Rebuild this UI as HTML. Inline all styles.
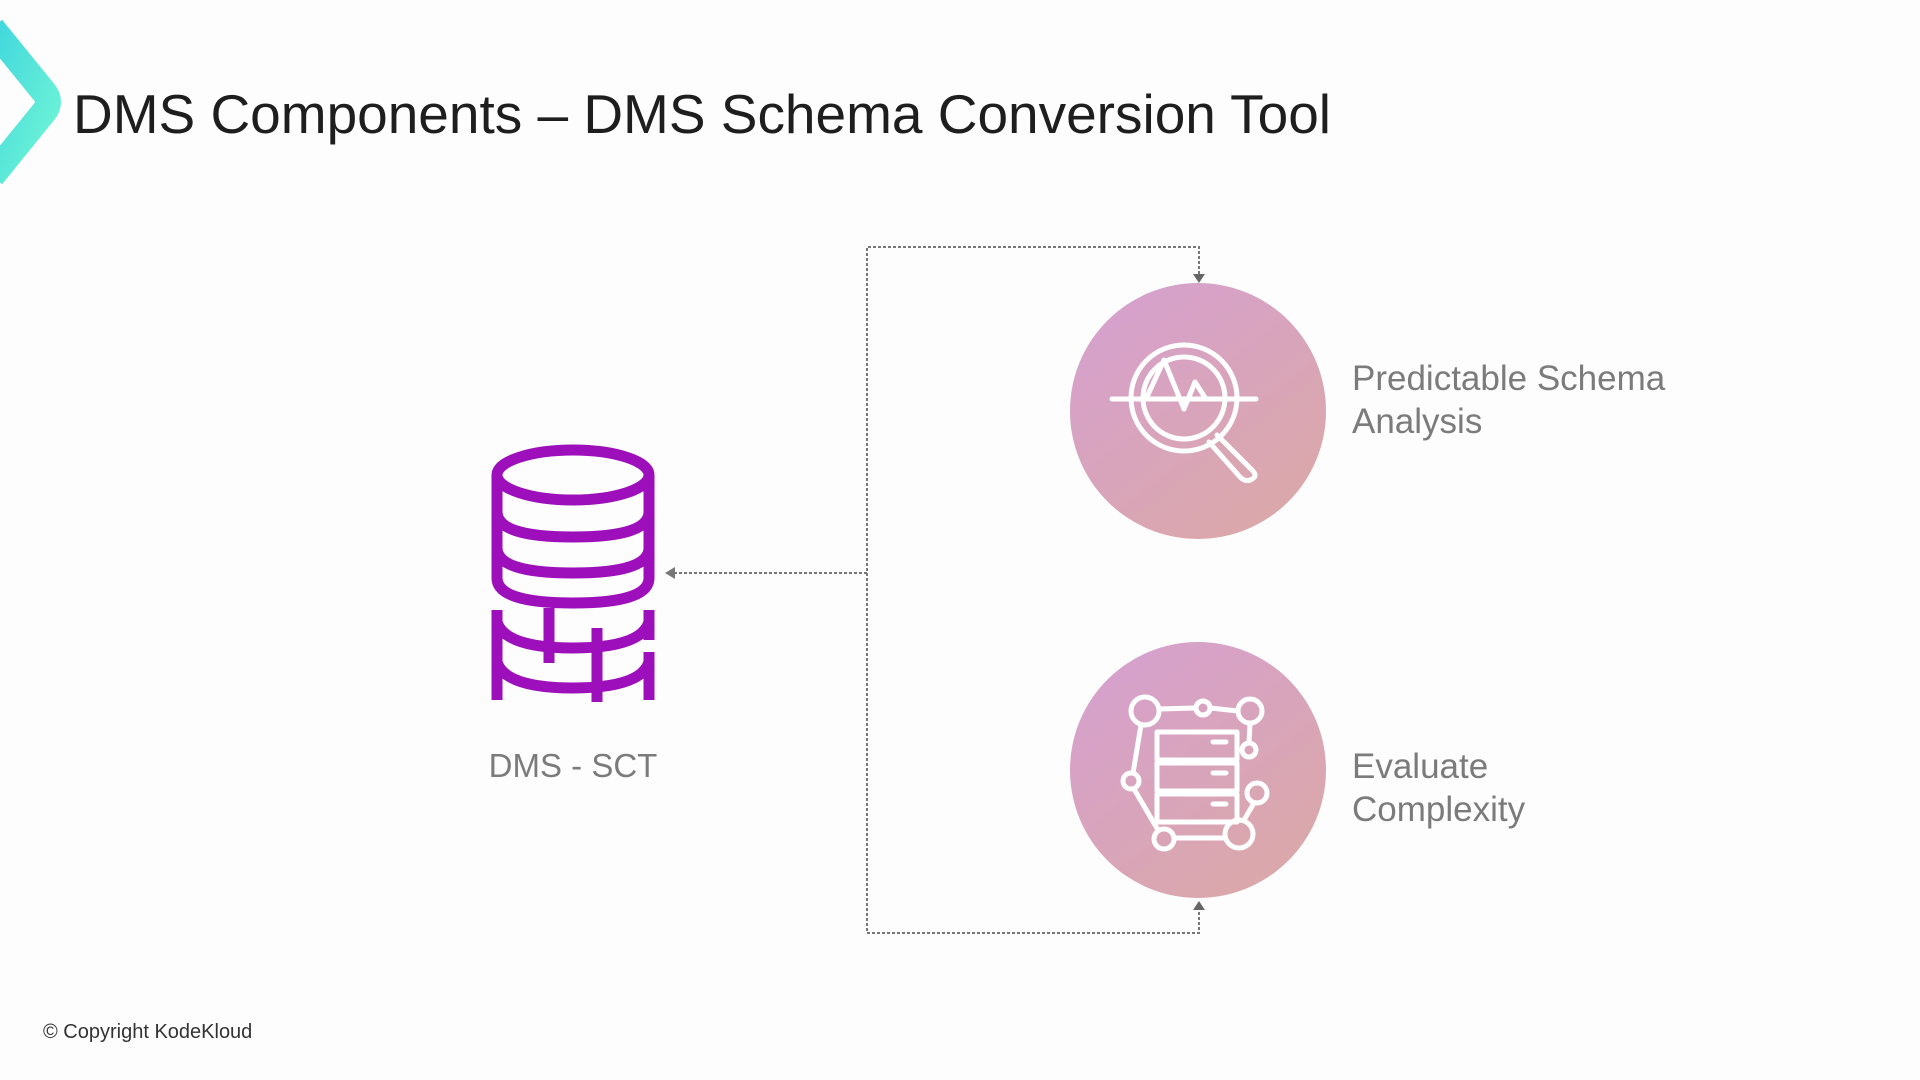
<!DOCTYPE html>
<html><head><meta charset="utf-8"><style>
html,body{margin:0;padding:0;background:#fdfdfd;}
svg{display:block}
text{font-family:"Liberation Sans","DejaVu Sans",sans-serif}
</style></head><body>
<svg width="1920" height="1080" viewBox="0 0 1920 1080" xmlns="http://www.w3.org/2000/svg">
<defs>
<linearGradient id="teal" x1="0" y1="0" x2="1" y2="1"><stop offset="0" stop-color="#3fd6dd"/><stop offset="1" stop-color="#6ff5d6"/></linearGradient>
<linearGradient id="pink" x1="0.2" y1="0.1" x2="0.85" y2="0.95"><stop offset="0" stop-color="#d6a1cb"/><stop offset="1" stop-color="#dba8a8"/></linearGradient>
</defs>
<rect width="1920" height="1080" fill="#fdfdfd"/>
<path d="M-8 28 L44 92 Q52 102 44 112 L-8 176" fill="none" stroke="url(#teal)" stroke-width="26" stroke-linejoin="round"/>
<text x="73" y="133" font-size="55" fill="#1e1e1e" textLength="1258">DMS Components – DMS Schema Conversion Tool</text>

<g fill="none" stroke="#777" stroke-width="2" stroke-dasharray="3,2">
<path d="M1199 274 V247 H867 V933 H1199 V908"/>
<path d="M867 573 H672"/>
</g>
<path d="M1193 274 L1205 274 L1199 283 Z" fill="#666"/>
<path d="M1193 910 L1205 910 L1199 901 Z" fill="#666"/>
<path d="M665 573 L675 567 L675 579 Z" fill="#777"/>

<g fill="none" stroke="#9c0fba" stroke-width="11">
<ellipse cx="573" cy="475" rx="76" ry="25"/>
<path d="M497 475 V578 Q497 603 573 603 Q649 603 649 578 V475"/>
<path d="M497 512 Q497 537 573 537 Q649 537 649 512"/>
<path d="M497 548 Q497 573 573 573 Q649 573 649 548"/>
<path d="M497 610 V700"/>
<path d="M649 610 V640"/>
<path d="M649 652 V700"/>
<path d="M497 622 Q505 648 573 648 Q641 648 649 622"/>
<path d="M497 662 Q505 688 573 688 Q641 688 649 662"/>
<path d="M549 608 V663"/>
<path d="M597 628 V702"/>
</g>
<text x="573" y="777" font-size="33" fill="#7b7b7b" text-anchor="middle">DMS - SCT</text>

<circle cx="1198" cy="411" r="128" fill="url(#pink)"/>
<circle cx="1198" cy="770" r="128" fill="url(#pink)"/>
<g fill="none" stroke="#fff" stroke-width="5" stroke-linecap="round" stroke-linejoin="round">
<circle cx="1184" cy="398" r="53"/>
<circle cx="1184" cy="398" r="41"/>
<path d="M1112 399 H1256"/>
<path d="M1146 399 L1164 360 L1184 409 L1195 382 L1206 399"/>
<path d="M1217 435 L1252 470 Q1258 476 1252 479 Q1246 483 1240 477 L1209 442"/>
</g>
<g transform="translate(0,80)" fill="none" stroke="#fff" stroke-width="5" stroke-linecap="round" stroke-linejoin="round">
<rect x="1157" y="652" width="80" height="28"/>
<rect x="1157" y="683" width="80" height="28"/>
<rect x="1157" y="714" width="80" height="28"/>
<path d="M1213 662 H1226 M1213 693 H1226 M1213 724 H1226"/>
<circle cx="1131" cy="701" r="8"/>
<circle cx="1145" cy="631" r="14"/>
<circle cx="1203" cy="628" r="7"/>
<circle cx="1250" cy="631" r="12"/>
<circle cx="1249" cy="670" r="7"/>
<circle cx="1257" cy="713" r="10"/>
<circle cx="1164" cy="759" r="10"/>
<circle cx="1239" cy="754" r="14"/>
<path d="M1159 629 L1196 628 M1210 628 L1238 631 M1250 643 L1249 663 M1141 645 L1133 693 M1134 709 L1158 750 M1174 758 H1225 M1244 740 L1254 723"/>
</g>
<text font-size="35" fill="#7b7b7b"><tspan x="1352" y="390">Predictable Schema</tspan><tspan x="1352" y="433">Analysis</tspan></text>
<text font-size="35" fill="#7b7b7b"><tspan x="1352" y="778">Evaluate</tspan><tspan x="1352" y="821">Complexity</tspan></text>
<text x="43" y="1038" font-size="20" fill="#333">© Copyright KodeKloud</text>
</svg>
</body></html>
